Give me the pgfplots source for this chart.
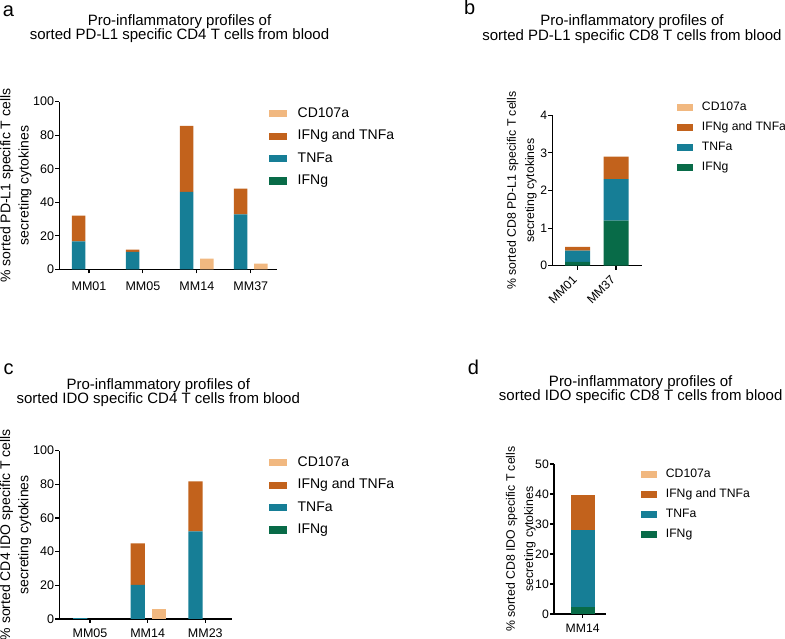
\documentclass[border=0pt]{standalone}
\usepackage{pgfplots}
\pgfplotsset{compat=1.18}
\usepackage{fontspec}
\setmainfont{Liberation Sans}
\definecolor{cCD}{RGB}{241,184,128}
\definecolor{cIT}{RGB}{194,98,28}
\definecolor{cT}{RGB}{22,126,150}
\definecolor{cI}{RGB}{8,107,72}
\pgfplotsset{
  gp/.style={
    scale only axis,
    anchor=south west,
    axis x line*=bottom, axis y line*=left,
    axis line style={line width=1.1pt,-},
    tick style={line width=1.1pt,black},
    major tick length=4pt,
    tick align=outside,
    ymin=0,
    ybar stacked,
    /pgf/number format/assume math mode=true,
    legend cell align=left,
    reverse legend,
    title style={anchor=north, align=center, inner sep=0pt, font=\fontsize{15}{14.3}\selectfont},
    ylabel style={anchor=south, align=center, inner sep=0pt},
    yticklabel style={inner sep=1pt},
  },
  leg14/.style={
    legend style={draw=none, fill=none, inner sep=0pt, outer sep=0pt, anchor=west,
      font=\fontsize{14}{14}\selectfont, row sep=9.4pt,
      nodes={inner sep=0pt, text height=10pt, text depth=3pt},
      /tikz/every odd column/.append style={column sep=10.4pt}},
    legend image code/.code={\fill[##1,draw=none] (0pt,-3.6pt) rectangle (18pt,3.6pt);},
    tick label style={font=\fontsize{12.5}{12.5}\selectfont},
    ylabel style={font=\fontsize{14}{18.3}\selectfont},
  },
  leg12/.style={
    legend style={draw=none, fill=none, inner sep=0pt, outer sep=0pt, anchor=west,
      font=\fontsize{12.2}{12.2}\selectfont, row sep=8.6pt,
      nodes={inner sep=0pt, text height=8.8pt, text depth=2.6pt},
      /tikz/every odd column/.append style={column sep=8.5pt}},
    legend image code/.code={\fill[##1,draw=none] (0pt,-3.2pt) rectangle (16.7pt,3.2pt);},
    tick label style={font=\fontsize{12.2}{12.2}\selectfont},
    ylabel style={font=\fontsize{12.3}{18.3}\selectfont},
  },
}
\begin{document}
\begin{tikzpicture}
\useasboundingbox (0,0) rectangle (785pt,639pt);
% panel letters
\node[anchor=base west, inner sep=0pt, font=\fontsize{20}{20}\selectfont] at (2.7pt,622.3pt) {a};
\node[anchor=base west, inner sep=0pt, font=\fontsize{20}{20}\selectfont] at (464pt,624pt) {b};
\node[anchor=base west, inner sep=0pt, font=\fontsize{20}{20}\selectfont] at (3.3pt,264pt) {c};
\node[anchor=base west, inner sep=0pt, font=\fontsize{20}{20}\selectfont] at (467.7pt,264.7pt) {d};

% ---------------- panel a
\begin{axis}[gp, leg14,
  at={(59.3pt,369.7pt)}, width=217.4pt, height=167.6pt,
  xmin=-0.55, xmax=3.48, ymax=100, ytick={0,20,40,60,80,100},
  xtick={0,1,2,3}, xticklabels={MM01,MM05,MM14,MM37},
  xticklabel style={inner sep=0pt, yshift=-8pt},
  bar width=13.5pt,
  title={Pro-inflammatory profiles of\\sorted PD-L1 specific CD4 T cells from blood},
  title style={at={(axis description cs:0.553,1.4845)}},
  ylabel={\% sorted PD-L1 specific T cells\\secreting cytokines},
  ylabel style={at={(axis description cs:-0.127,0.5)}},
  legend style={at={(axis description cs:0.966,0.7276)}},
]
\addplot[fill=cI, draw=none] coordinates {(-0.19,0) (0.185,0) (0.81,0) (1.185,0) (1.81,0) (2.185,0) (2.81,0) (3.185,0)};
\addplot[fill=cT, draw=none] coordinates {(-0.19,16.6) (0.185,0) (0.81,10.4) (1.185,0) (1.81,46.2) (2.185,0) (2.81,32.8) (3.185,0)};
\addplot[fill=cIT, draw=none] coordinates {(-0.19,15.4) (0.185,0) (0.81,1.4) (1.185,0) (1.81,39.3) (2.185,0) (2.81,15.3) (3.185,0)};
\addplot[fill=cCD, draw=none] coordinates {(-0.19,0) (0.185,0) (0.81,0) (1.185,0) (1.81,0) (2.185,6.4) (2.81,0) (3.185,3.4)};
\legend{IFNg,TNFa,IFNg and TNFa,CD107a}
\end{axis}

% ---------------- panel b
\begin{axis}[gp, leg12,
  at={(552.3pt,373.3pt)}, width=89.4pt, height=150.4pt,
  xmin=-0.663, xmax=1.671, ymax=4, ytick={0,1,2,3,4},
  xtick={0,1}, xticklabels={MM01,MM37},
  xticklabel shift=5pt,
  xticklabel style={rotate=45, anchor=east, inner sep=1pt, xshift=-3pt},
  bar width=25pt,
  title={Pro-inflammatory profiles of\\sorted PD-L1 specific CD8 T cells from blood},
  title style={at={(axis description cs:0.891,1.629)}},
  ylabel={\% sorted CD8 PD-L1 specific T cells\\secreting cytokines},
  ylabel style={at={(axis description cs:-0.173,0.5)}},
  legend style={at={(axis description cs:1.392,0.852)}},
]
\addplot[fill=cI, draw=none] coordinates {(0,0.1) (1,1.2)};
\addplot[fill=cT, draw=none] coordinates {(0,0.3) (1,1.1)};
\addplot[fill=cIT, draw=none] coordinates {(0,0.1) (1,0.6)};
\addplot[fill=cCD, draw=none] coordinates {(0,0) (1,0)};
\legend{IFNg,TNFa,IFNg and TNFa,CD107a}
\end{axis}

% ---------------- panel c
\begin{axis}[gp, leg14,
  at={(59.3pt,20pt)}, width=172.4pt, height=168.3pt,
  xmin=-0.532, xmax=2.458, ymax=100, ytick={0,20,40,60,80,100},
  xtick={0,1,2}, xticklabels={MM05,MM14,MM23},
  xticklabel style={inner sep=0pt, yshift=-6pt},
  bar width=14.3pt,
  title={Pro-inflammatory profiles of\\sorted IDO specific CD4 T cells from blood},
  title style={at={(axis description cs:0.574,1.396)}},
  ylabel={\% sorted CD4 IDO specific T cells\\secreting cytokines},
  ylabel style={at={(axis description cs:-0.161,0.5)}},
  legend style={at={(axis description cs:1.218,0.729)}},
]
\addplot[fill=cI, draw=none] coordinates {(-0.17,0) (0.2,0) (0.83,0) (1.2,0) (1.83,0) (2.2,0)};
\addplot[fill=cT, draw=none] coordinates {(-0.17,0.5) (0.2,0) (0.83,20.2) (1.2,0) (1.83,52.1) (2.2,0)};
\addplot[fill=cIT, draw=none] coordinates {(-0.17,0) (0.2,0) (0.83,24.8) (1.2,0) (1.83,29.7) (2.2,0)};
\addplot[fill=cCD, draw=none] coordinates {(-0.17,0) (0.2,0) (0.83,0) (1.2,5.7) (1.83,0) (2.2,0)};
\legend{IFNg,TNFa,IFNg and TNFa,CD107a}
\end{axis}

% ---------------- panel d
\begin{axis}[gp, leg12,
  at={(554pt,25pt)}, width=52pt, height=150pt,
  xmin=-1.18, xmax=0.96, ymax=50, ytick={0,10,20,30,40,50},
  xtick={0}, xticklabels={MM14},
  xticklabel style={inner sep=0pt, yshift=-6pt},
  bar width=24.3pt,
  title={Pro-inflammatory profiles of\\sorted IDO specific CD8 T cells from blood},
  title style={at={(axis description cs:1.667,1.553)}},
  ylabel={\% sorted CD8 IDO specific T cells\\secreting cytokines},
  ylabel style={at={(axis description cs:-0.35,0.5)}},
  legend style={at={(axis description cs:1.667,0.729)}},
]
\addplot[fill=cI, draw=none] coordinates {(0,2.4)};
\addplot[fill=cT, draw=none] coordinates {(0,25.6)};
\addplot[fill=cIT, draw=none] coordinates {(0,11.8)};
\addplot[fill=cCD, draw=none] coordinates {(0,0)};
\legend{IFNg,TNFa,IFNg and TNFa,CD107a}
\end{axis}
\end{tikzpicture}
\end{document}
